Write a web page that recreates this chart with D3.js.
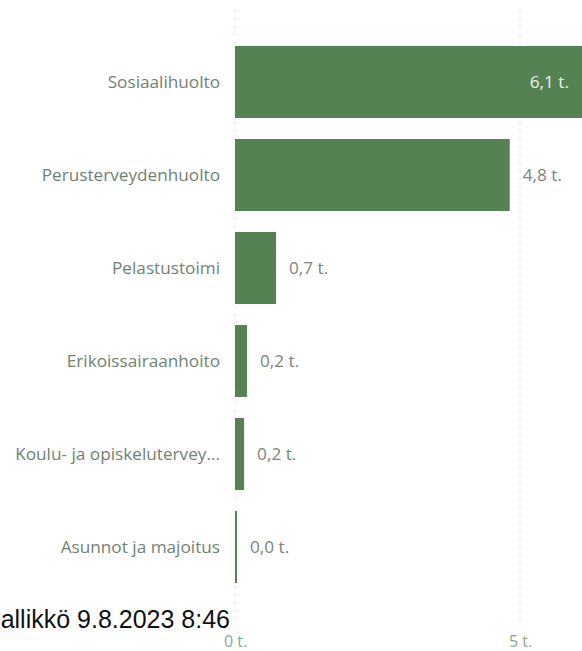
<!DOCTYPE html>
<html>
<head>
<meta charset="utf-8">
<script src="https://cdn.jsdelivr.net/npm/d3@7"></script>
<style>
  body { margin: 0; background: #fff; overflow: hidden; }
  svg { display: block; }
  .cat { font-family: "Open Sans", sans-serif; font-size: 17.2px; fill: #6f8270; }
  .val { font-family: "Open Sans", sans-serif; font-size: 17.2px; fill: #7c857c; }
  .val.inside { fill: #eef3ee; }
  .tick text { font-family: "Open Sans", sans-serif; font-size: 16px; fill: #8aa88a; }
  .grid { stroke: #d9d9d9; stroke-width: 1; stroke-dasharray: 2,6; }
  .stamp { font-family: "Liberation Sans", Arial, sans-serif; font-size: 25px; fill: #111; }
</style>
</head>
<body>
<div id="chart"></div>
<script>
// data
var categories = ["Sosiaalihuolto", "Perusterveydenhuolto", "Pelastustoimi",
  "Erikoissairaanhoito", "Koulu- ja opiskelutervey...", "Asunnot ja majoitus"];
var values = [6.1, 4.82, 0.72, 0.21, 0.16, 0.03];
var tickValues = [0, 5];
var stampText = "allikkö 9.8.2023 8:46";

var width = 582, height = 651;

var svg = d3.select("#chart").append("svg")
    .attr("width", width).attr("height", height);

var x = d3.scaleLinear().domain([0, 5]).range([235, 520]);
var y = d3.scaleBand().domain(categories).range([35.5, 593.5])
    .paddingInner(0.226).paddingOuter(0.113);

var fmt = function(v){ return d3.format(".1f")(v).replace(".", ",") + " t."; };

// dotted gridlines
svg.selectAll("line.grid").data(tickValues).enter().append("line")
    .attr("class", "grid")
    .attr("x1", d => x(d)).attr("x2", d => x(d))
    .attr("y1", 10).attr("y2", 624);

// bars
svg.selectAll("rect.bar").data(values).enter().append("rect")
    .attr("class", "bar")
    .attr("x", x(0))
    .attr("y", (d, i) => y(categories[i]))
    .attr("width", d => Math.max(2, x(d) - x(0)))
    .attr("height", y.bandwidth())
    .attr("fill", "#548253");

// category labels
svg.selectAll("text.cat").data(categories).enter().append("text")
    .attr("class", "cat")
    .attr("x", 220)
    .attr("y", d => y(d) + y.bandwidth() / 2)
    .attr("dy", "0.35em")
    .attr("text-anchor", "end")
    .text(d => d);

// value labels, inside the bar when it runs past the edge
svg.selectAll("text.val").data(values).enter().append("text")
    .attr("class", d => x(d) > width ? "val inside" : "val")
    .attr("x", d => x(d) > width ? width - 13 : Math.max(x(d), x(0) + 2) + 13)
    .attr("y", (d, i) => y(categories[i]) + y.bandwidth() / 2)
    .attr("dy", "0.35em")
    .attr("text-anchor", d => x(d) > width ? "end" : "start")
    .text(fmt);

// x axis labels only
var axis = svg.append("g")
    .attr("transform", "translate(0,633)")
    .call(d3.axisBottom(x).tickValues(tickValues).tickSize(0).tickFormat(d => d + " t."));
axis.select(".domain").remove();

// timestamp overlay
svg.append("text").attr("class", "stamp")
    .attr("x", 230).attr("y", 628)
    .attr("text-anchor", "end")
    .text(stampText);
</script>
</body>
</html>
